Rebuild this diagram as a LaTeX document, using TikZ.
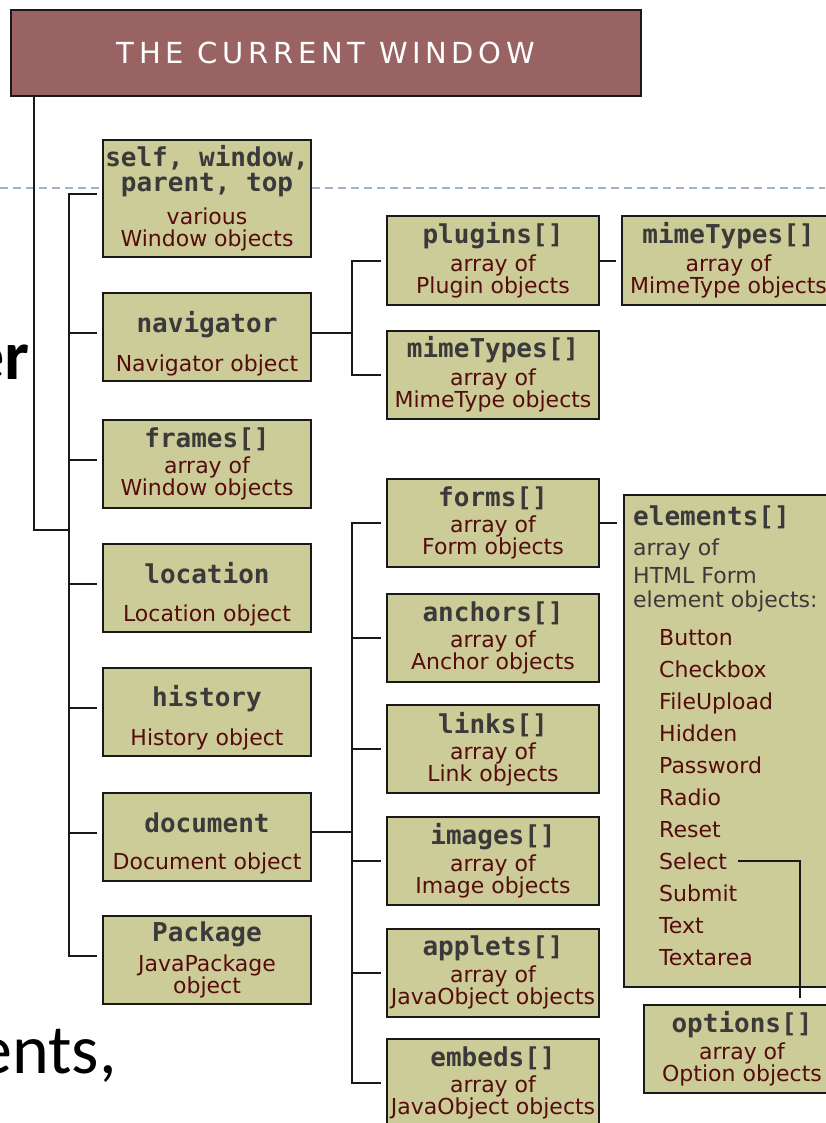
\documentclass[tikz,border=0pt]{standalone}
\usepackage{fontspec}
\usepackage{xcolor}
\setmainfont{DejaVu Sans}
\newfontfamily\monofont{DejaVu Sans Mono}
\newfontfamily\titlefont[LetterSpace=16]{DejaVu Sans}
\newfontfamily\slidefont{Carlito}
\definecolor{titlefill}{RGB}{154,99,99}
\definecolor{boxfill}{RGB}{204,204,153}
\definecolor{hdgray}{RGB}{58,58,58}
\definecolor{subred}{RGB}{85,12,12}
\definecolor{rulecol}{RGB}{25,25,25}
\definecolor{dashblue}{RGB}{160,180,200}
\newcommand\hdfont{\monofont\bfseries\fontsize{26}{27}\selectfont}
\newcommand\subfont{\fontsize{22}{22}\selectfont}
\newcommand\hd[1]{{\hdfont\color{hdgray}#1}}
\newcommand\lift{\rule{0pt}{34pt}}

\begin{document}
\begin{tikzpicture}[x=1pt,y=-1pt]
    \tikzstyle{box}=[draw=rulecol,fill=boxfill,line width=2pt,minimum width=208pt,minimum height=88pt,inner sep=0pt,align=center,font=\subfont,text=subred]
    \tikzstyle{wide}=[minimum width=212pt]
    \tikzstyle{titlebox}=[draw=rulecol,fill=titlefill,line width=2pt,minimum width=630pt,minimum height=86pt,text=white,font=\titlefont\fontsize{29}{30}\selectfont]
    \tikzstyle{link}=[draw=rulecol,line width=2pt]
    \tikzstyle{gap}=[shorten <=5pt,shorten >=5pt]
    \tikzstyle{item}=[anchor=base west,inner sep=1pt,font=\subfont,text=subred]
    \tikzstyle{slidetext}=[anchor=base east,inner sep=0pt,font=\slidefont\fontsize{70}{70}\selectfont]
    \tikzstyle{dashline}=[draw=dashblue,line width=1.5pt,dash pattern=on 8pt off 5pt]

    \def\cola{207}
    \def\colb{493}

    \useasboundingbox (0,0) rectangle (825,1123);

    % slide behind the chart
    \draw[dashline] (0,188) -- (825,188);
    \node[slidetext] (er) at (30,379) {\bfseries er};
    \node[slidetext] (ents) at (117,1073) {ents,};

    \node[titlebox] (title) at (326,53) {THE CURRENT WINDOW};

    % window properties
    \node[box,minimum height=117pt] (self) at (\cola,198.5) {\hd{self, window,}\\[3pt]\hd{parent, top}\\[10pt]various\\Window objects};
    \node[box] (navigator) at (\cola,337) {\lift\hd{navigator}\\[15.5pt]Navigator object};
    \node[box] (frames) at (\cola,464) {\hd{frames[]}\\[4pt]array of\\Window objects};
    \node[box] (location) at (\cola,588) {\lift\hd{location}\\[15.5pt]Location object};
    \node[box] (history) at (\cola,711.5) {\lift\hd{history}\\[15.5pt]History object};
    \node[box] (document) at (\cola,836.5) {\lift\hd{document}\\[15.5pt]Document object};
    \node[box] (package) at (\cola,960) {\hd{Package}\\[7pt]JavaPackage\\object};

    % navigator and document properties
    \node[box,wide] (plugins) at (\colb,260.5) {\hd{plugins[]}\\[5pt]array of\\Plugin objects};
    \node[box,wide] (mimeB) at (\colb,374.5) {\hd{mimeTypes[]}\\[5pt]array of\\MimeType objects};
    \node[box,wide] (forms) at (\colb,523) {\hd{forms[]}\\[4pt]array of\\Form objects};
    \node[box,wide] (anchors) at (\colb,637.5) {\hd{anchors[]}\\[4pt]array of\\Anchor objects};
    \node[box,wide] (links) at (\colb,749) {\hd{links[]}\\[4pt]array of\\Link objects};
    \node[box,wide] (images) at (\colb,861) {\hd{images[]}\\[4pt]array of\\Image objects};
    \node[box,wide] (applets) at (\colb,972.5) {\hd{applets[]}\\[4pt]array of\\JavaObject objects};
    \node[box,wide] (embeds) at (\colb,1083) {\hd{embeds[]}\\[4pt]array of\\JavaObject objects};

    % third level
    \node[box,minimum width=213pt] (mimeA) at (728.5,260.5) {\hd{mimeTypes[]}\\[5pt]array of\\MimeType objects};
    \node[box,minimum width=215pt,minimum height=492pt,anchor=north west] (elements) at (623,494) {};
    \node[anchor=north west,inner sep=0pt,align=left,font=\subfont,text=hdgray] (elhead) at (633,506) {\hd{elements[]}\\[8pt]array of\\[6pt]HTML Form\\[2pt]element objects:};
    \foreach \el [count=\i from 0] in {Button,Checkbox,FileUpload,Hidden,Password,Radio,Reset,Select,Submit,Text,Textarea}
        \node[item] (el\el) at (658,{645+32*\i}) {\el};
    \node[box,minimum width=196pt] (options) at (742,1049) {\hd{options[]}\\[4pt]array of\\Option objects};

    % connectors
    \coordinate (trunk) at (34,530);
    \coordinate (spine) at (69,530);
    \draw[link] (title.south -| trunk) -- (trunk) -- (spine);
    \foreach \b in {self,navigator,frames,location,history,document,package}
        \coordinate (\b-in) at ([yshift=4pt]\b.west);
    \draw[link,gap] (self-in) -| (spine) |- (package-in);
    \foreach \b in {navigator,frames,location,history,document}
        \draw[link,shorten >=5pt] (spine |- \b-in) -- (\b-in);

    \coordinate (navbus) at (352,333);
    \draw[link] (navbus -| navigator.east) -- (navbus);
    \draw[link,gap] (plugins.west) -| (navbus) |- (mimeB.west);
    \draw[link,shorten >=5pt] (plugins.east) -- (mimeA.west);

    \coordinate (docbus) at (352,832);
    \draw[link] (docbus -| document.east) -- (docbus);
    \draw[link,gap] (forms.west) -| (docbus) |- (embeds.west);
    \foreach \b in {anchors,links,images,applets}
        \draw[link,shorten >=5pt] (docbus |- \b.west) -- (\b.west);
    \draw[link,shorten >=6pt] (forms.east) -- (forms.east -| elements.west);

    \draw[link,shorten <=10pt,shorten >=6pt] (elSelect.east) -| ([xshift=58pt]options.north);

\end{tikzpicture}
\end{document}
